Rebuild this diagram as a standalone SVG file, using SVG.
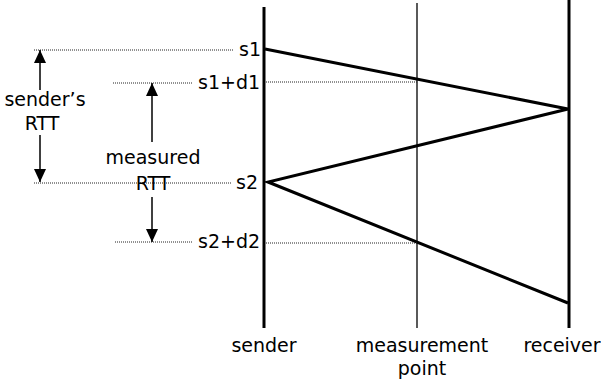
<svg xmlns="http://www.w3.org/2000/svg" width="601" height="381" viewBox="0 0 601 381">
<defs>
<marker id="ah" viewBox="0 0 10 10" refX="10" refY="5" markerWidth="13" markerHeight="12" markerUnits="userSpaceOnUse" orient="auto" preserveAspectRatio="none">
<path d="M0,0 L10,5 L0,10 z" fill="#000"/>
</marker>
</defs>
<style>
text{font-family:"DejaVu Sans","Liberation Sans",sans-serif;font-size:19px;fill:#000}
.thick{stroke:#000;stroke-width:3;fill:none}
.thin{stroke:#000;stroke-width:1.3;fill:none}
.dot{stroke:#222;stroke-width:1;stroke-dasharray:1,1;fill:none}
.arr{stroke:#000;stroke-width:1.5;fill:none;marker-end:url(#ah)}
.mid{text-anchor:middle}
</style>
<rect width="601" height="381" fill="#fff"/>
<g id="sender">
<line class="thick" x1="264" y1="7" x2="264" y2="328"/>
<text class="mid" x="264" y="352">sender</text>
</g>
<g id="measurement-point">
<line class="thin" x1="417" y1="3" x2="417" y2="328"/>
<text class="mid" x="422" y="352">measurement</text>
<text class="mid" x="422" y="375">point</text>
</g>
<g id="receiver">
<line class="thick" x1="569" y1="0" x2="569" y2="328"/>
<text class="mid" x="562" y="352">receiver</text>
</g>
<g id="connectors">
<polyline class="thick" points="265,49 568,109 268,182 568,303"/>
<line class="dot" x1="266" y1="82" x2="417" y2="82"/>
<line class="dot" x1="266" y1="243" x2="417" y2="243"/>
<line class="dot" x1="34" y1="50" x2="233" y2="50"/>
<line class="dot" x1="113" y1="83" x2="193" y2="83"/>
<line class="dot" x1="34" y1="183" x2="232" y2="183"/>
<line class="dot" x1="115" y1="242" x2="193" y2="242"/>
<line class="arr" x1="40" y1="90" x2="40" y2="50"/>
<line class="arr" x1="40" y1="135" x2="40" y2="182"/>
<line class="arr" x1="152" y1="142" x2="152" y2="83"/>
<line class="arr" x1="152" y1="197" x2="152" y2="242"/>
</g>
<g id="labels">
<text x="239" y="56">s1</text>
<text x="198" y="89">s1+d1</text>
<text x="236" y="189">s2</text>
<text x="198" y="248">s2+d2</text>
<text class="mid" x="45" y="106">sender’s</text>
<text class="mid" x="42" y="130">RTT</text>
<text class="mid" x="153" y="164">measured</text>
<text class="mid" x="153" y="190">RTT</text>
</g>
</svg>
